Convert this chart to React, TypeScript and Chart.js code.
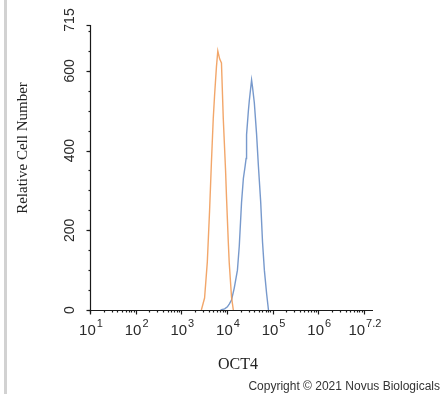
import React, { useEffect, useRef } from "react";
import { Chart, registerables } from "chart.js";

Chart.register(...registerables);

// Isotype / control (orange) histogram: fluorescence intensity vs relative cell number
const controlIntensity = [2754, 3236, 3715, 4169, 4571, 5012, 5370, 5888, 6310, 6918, 7586, 8318, 9333, 9772, 10715, 11220, 12589, 13804];
const controlCount = [0, 30, 120, 250, 370, 480, 540, 610, 650, 630, 620, 480, 350, 285, 170, 119, 33, 0];

// OCT4 stained (blue) histogram
const oct4Intensity = [7244, 8913, 10233, 11220, 12589, 14454, 16982, 18621, 20893, 22909, 25119, 26303, 26915, 29512, 30903, 34674, 36308, 39811, 44668, 48978, 54954, 60256, 66069, 74131, 81283];
const oct4Count = [0, 3, 8, 15, 25, 55, 100, 160, 270, 330, 362, 380, 440, 500, 525, 577, 560, 520, 440, 360, 270, 170, 100, 40, 0];

const yTicks = [0, 200, 400, 600, 715];
const yMinorStep = 50;
const xDecades = [1, 2, 3, 4, 5, 6, 7];
const xExponentLabels = ["1", "2", "3", "4", "5", "6", "7.2"];
const xMaxExponent = 7.2;
const yMax = 715;

const xTitle = "OCT4";
const yTitle = "Relative Cell Number";
const copyright = "Copyright \u00A9 2021 Novus Biologicals";

const axisPlugin = {
  id: "facsAxes",
  afterDraw(chart: any) {
    const ctx = chart.ctx as CanvasRenderingContext2D;
    const xs = chart.scales.x;
    const ys = chart.scales.y;
    const area = chart.chartArea;
    const L = Math.round(area.left) + 0.5;
    const B = Math.round(area.bottom) + 0.5;
    const axisColor = "#1a1a1a";
    ctx.save();
    ctx.strokeStyle = axisColor;
    ctx.lineWidth = 1.2;

    // y axis line
    ctx.beginPath();
    ctx.moveTo(L, ys.getPixelForValue(yMax));
    ctx.lineTo(L, B + 3);
    ctx.stroke();

    // y minor ticks
    for (let v = 0; v <= yMax; v += yMinorStep) {
      const py = Math.round(ys.getPixelForValue(v)) + 0.5;
      ctx.beginPath();
      ctx.moveTo(L - 2, py);
      ctx.lineTo(L, py);
      ctx.stroke();
    }
    // y major ticks
    yTicks.forEach((v) => {
      const py = Math.round(ys.getPixelForValue(v)) + 0.5;
      ctx.beginPath();
      ctx.moveTo(L - 4, py);
      ctx.lineTo(L, py);
      ctx.stroke();
    });

    // x axis line
    ctx.beginPath();
    ctx.moveTo(L - 3, B);
    ctx.lineTo(xs.getPixelForValue(Math.pow(10, xMaxExponent)), B);
    ctx.stroke();

    // x minor ticks
    for (let d = 1; d <= 7; d++) {
      for (let m = 2; m <= 9; m++) {
        const val = m * Math.pow(10, d);
        if (Math.log10(val) > xMaxExponent) continue;
        const px = Math.round(xs.getPixelForValue(val)) + 0.5;
        ctx.beginPath();
        ctx.moveTo(px, B);
        ctx.lineTo(px, B + 2);
        ctx.stroke();
      }
    }
    // x major ticks
    xDecades.forEach((d) => {
      const px = Math.round(xs.getPixelForValue(Math.pow(10, d))) + 0.5;
      ctx.beginPath();
      ctx.moveTo(px, B);
      ctx.lineTo(px, B + 4);
      ctx.stroke();
    });

    // x tick labels 10^n
    ctx.fillStyle = "#2a2a2a";
    ctx.textBaseline = "alphabetic";
    const baseFont = "15px 'Liberation Sans', Arial, sans-serif";
    const expFont = "11px 'Liberation Sans', Arial, sans-serif";
    xDecades.forEach((d, i) => {
      const px = xs.getPixelForValue(Math.pow(10, d));
      ctx.font = baseFont;
      const wBase = ctx.measureText("10").width;
      ctx.font = expFont;
      const wExp = ctx.measureText(xExponentLabels[i]).width;
      const start = px - (wBase + wExp + 1) / 2 + 1;
      ctx.font = baseFont;
      ctx.textAlign = "left";
      ctx.fillText("10", start, B + 24);
      ctx.font = expFont;
      ctx.fillText(xExponentLabels[i], start + wBase + 1, B + 16);
    });

    // y tick labels (rotated)
    ctx.font = "14px 'Liberation Sans', Arial, sans-serif";
    ctx.textAlign = "center";
    ctx.textBaseline = "middle";
    yTicks.forEach((v) => {
      let py = ys.getPixelForValue(v);
      if (v === yMax) py -= 5;
      ctx.save();
      ctx.translate(L - 20, py);
      ctx.rotate(-Math.PI / 2);
      ctx.fillText(String(v), 0, 0);
      ctx.restore();
    });

    // titles
    ctx.fillStyle = "#222";
    ctx.font = "16px 'Liberation Serif', 'Times New Roman', serif";
    ctx.textAlign = "center";
    ctx.textBaseline = "alphabetic";
    ctx.fillText(xTitle, 238, B + 58);

    ctx.save();
    ctx.translate(27, 148);
    ctx.rotate(-Math.PI / 2);
    ctx.font = "15px 'Liberation Serif', 'Times New Roman', serif";
    ctx.fillText(yTitle, 0, 0);
    ctx.restore();

    // copyright
    ctx.font = "12px 'Liberation Sans', Arial, sans-serif";
    ctx.textAlign = "right";
    ctx.fillStyle = "#333";
    ctx.fillText(copyright, 440, 390);

    ctx.restore();
  },
};

export default function App() {
  const canvasRef = useRef<HTMLCanvasElement | null>(null);

  useEffect(() => {
    if (!canvasRef.current) return;
    const chart = new Chart(canvasRef.current, {
      type: "line",
      data: {
        datasets: [
          {
            label: "Control",
            data: controlIntensity.map((x, i) => ({ x, y: controlCount[i] })),
            borderColor: "rgba(240,150,80,0.85)",
            borderWidth: 1.4,
            pointRadius: 0,
            tension: 0,
            fill: false,
          },
          {
            label: "OCT4",
            data: oct4Intensity.map((x, i) => ({ x, y: oct4Count[i] })),
            borderColor: "rgba(95,135,195,0.85)",
            borderWidth: 1.4,
            pointRadius: 0,
            tension: 0,
            fill: false,
          },
        ],
      },
      options: {
        animation: false,
        responsive: true,
        maintainAspectRatio: false,
        layout: { padding: { left: 90, top: 25, right: 69, bottom: 84 } },
        plugins: { legend: { display: false }, tooltip: { enabled: false } },
        scales: {
          x: { type: "logarithmic", min: 10, max: Math.pow(10, xMaxExponent), display: false },
          y: { type: "linear", min: 0, max: yMax, display: false },
        },
      },
      plugins: [axisPlugin],
    });
    return () => chart.destroy();
  }, []);

  return (
    <div style={{ position: "fixed", left: 0, top: 0, width: 442, height: 394, background: "#fff" }}>
      <div style={{ position: "absolute", left: 4, top: 0, width: 3, height: 394, background: "#d2d2d2" }} />
      <div style={{ position: "absolute", left: 0, top: 0, width: 442, height: 394 }}>
        <canvas ref={canvasRef} />
      </div>
    </div>
  );
}
